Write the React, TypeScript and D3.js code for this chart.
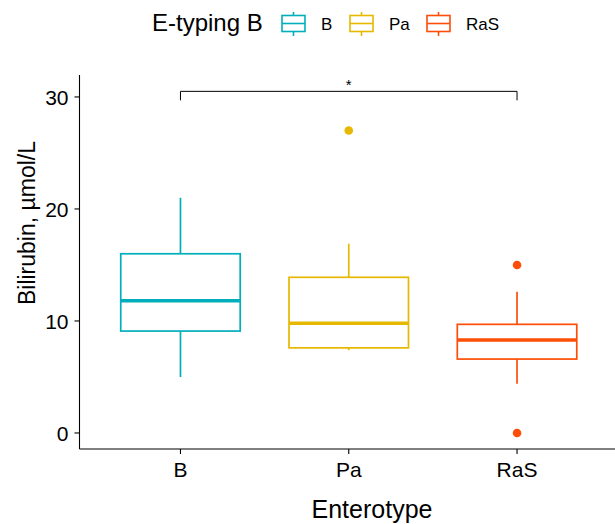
import React from "react";
import * as d3 from "d3";

const categories = ["B", "Pa", "RaS"];
const colors = ["#00AFBB", "#E7B800", "#FC4E07"];
const whiskerLow = [5.0, 7.4, 4.4];
const q1 = [9.1, 7.6, 6.6];
const median = [11.8, 9.8, 8.3];
const q3 = [16.0, 13.9, 9.7];
const whiskerHigh = [21.0, 16.9, 12.6];
const outliers: [string, number][] = [["Pa", 27.0], ["RaS", 15.0], ["RaS", 0.0]];
const yTicks = [0, 10, 20, 30];
const comparison = { from: "B", to: "RaS", y: 30.5, label: "*" };

const W = 615, H = 524;
const left = 79.5, right = 618, top = 75, bottom = 449;
const font = "'Liberation Sans', Arial, Helvetica, sans-serif";

export default function App() {
  const x = d3.scaleLinear().domain([0.4, 3.6]).range([left, right]);
  const xc = (c: string) => x(categories.indexOf(c) + 1);
  const y = d3.scaleLinear().domain([-1.43, 31.96]).range([bottom, top]);
  const bw = 0.355;
  const legendItems = [
    { label: "B", gx: 282, tx: 321 },
    { label: "Pa", gx: 350, tx: 389 },
    { label: "RaS", gx: 427, tx: 466 },
  ];
  return (
    <svg width={W} height={H} style={{ position: "absolute", left: 0, top: 0, background: "#fff" }} fontFamily={font}>
      {/* legend */}
      <text x={152} y={31} fontSize={24} fill="#000">E-typing B</text>
      {legendItems.map((it, i) => (
        <g key={it.label}>
          <line x1={it.gx + 11.5} x2={it.gx + 11.5} y1={12} y2={36} stroke={colors[i]} strokeWidth={1.6} />
          <rect x={it.gx} y={15.5} width={23} height={16} fill="#fff" stroke={colors[i]} strokeWidth={1.6} />
          <line x1={it.gx} x2={it.gx + 23} y1={23.5} y2={23.5} stroke={colors[i]} strokeWidth={1.6} />
          <text x={it.tx} y={30} fontSize={17} fill="#000">{it.label}</text>
        </g>
      ))}
      {/* boxes */}
      {categories.map((c, i) => {
        const cx = x(i + 1);
        const x0 = x(i + 1 - bw), x1 = x(i + 1 + bw);
        return (
          <g key={c} stroke={colors[i]} fill="none">
            <line x1={cx} x2={cx} y1={y(whiskerHigh[i])} y2={y(q3[i])} strokeWidth={1.7} />
            <line x1={cx} x2={cx} y1={y(q1[i])} y2={y(whiskerLow[i])} strokeWidth={1.7} />
            <rect x={x0} y={y(q3[i])} width={x1 - x0} height={y(q1[i]) - y(q3[i])} fill="#fff" strokeWidth={1.7} />
            <line x1={x0} x2={x1} y1={y(median[i])} y2={y(median[i])} strokeWidth={3.4} />
          </g>
        );
      })}
      {outliers.map(([c, v], k) => (
        <circle key={k} cx={xc(c)} cy={y(v)} r={4.3} fill={colors[categories.indexOf(c)]} />
      ))}
      {/* significance */}
      <path
        d={`M${xc(comparison.from)},${y(comparison.y) + 9}V${y(comparison.y)}H${xc(comparison.to)}V${y(comparison.y) + 9}`}
        fill="none" stroke="#000" strokeWidth={1} />
      <text x={(xc(comparison.from) + xc(comparison.to)) / 2} y={y(comparison.y) - 1} fontSize={15} textAnchor="middle">{comparison.label}</text>
      {/* axes */}
      <line x1={left} x2={left} y1={top} y2={bottom} stroke="#000" strokeWidth={1.1} />
      <line x1={left} x2={W} y1={bottom} y2={bottom} stroke="#000" strokeWidth={1.1} />
      {yTicks.map((t) => (
        <g key={t}>
          <line x1={left - 5} x2={left} y1={y(t)} y2={y(t)} stroke="#000" strokeWidth={1.1} />
          <text x={left - 11} y={y(t)} dy="0.36em" textAnchor="end" fontSize={21} fill="#000">{t}</text>
        </g>
      ))}
      {categories.map((c, i) => (
        <g key={c}>
          <line x1={x(i + 1)} x2={x(i + 1)} y1={bottom} y2={bottom + 5} stroke="#000" strokeWidth={1.1} />
          <text x={x(i + 1)} y={477} textAnchor="middle" fontSize={21} fill="#000">{c}</text>
        </g>
      ))}
      <text x={372} y={518} textAnchor="middle" fontSize={25} fill="#000">Enterotype</text>
      <text transform={`translate(35,223) rotate(-90)`} textAnchor="middle" fontSize={23} fill="#000">Bilirubin, µmol/L</text>
    </svg>
  );
}
